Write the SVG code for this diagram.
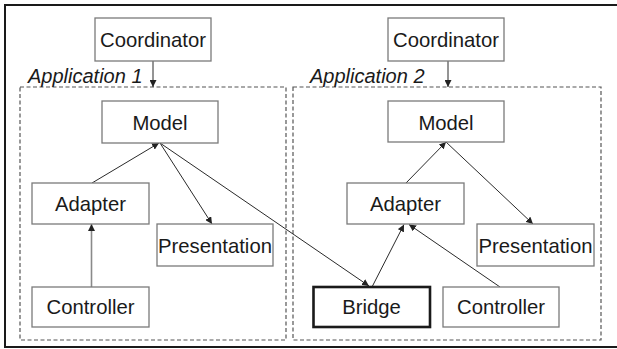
<svg xmlns="http://www.w3.org/2000/svg" width="617" height="349" viewBox="0 0 617 349">
  <defs>
    <marker id="arrow" viewBox="0 0 10 10" refX="10" refY="5" markerWidth="7" markerHeight="7" markerUnits="userSpaceOnUse" orient="auto">
      <path d="M0,0 L10,5 L0,10 z" fill="#222"/>
    </marker>
    <style>
      .node rect { fill: #fff; stroke: #7a7a7a; stroke-width: 1.3; }
      .node.bold rect { stroke: #1a1a1a; stroke-width: 2.6; }
      .node text { font-family: "Liberation Sans", Arial, sans-serif; font-size: 20.3px; fill: #1a1a1a; text-anchor: middle; }
      .app { fill: none; stroke: #555; stroke-width: 1.2; stroke-dasharray: 4 2.5; }
      .app-label { font-family: "Liberation Sans", Arial, sans-serif; font-size: 20px; font-style: italic; fill: #1a1a1a; }
      .edge { stroke: #2a2a2a; stroke-width: 1; fill: none; marker-end: url(#arrow); }
      .edge.soft { stroke: #8a8a8a; stroke-width: 1.6; }
    </style>
  </defs>

  <rect width="617" height="349" fill="#fff"/>

  <!-- outer frame: open on the right -->
  <path d="M617,5 H5 V347 H617" fill="none" stroke="#1a1a1a" stroke-width="2"/>

  <!-- application containers -->
  <g id="application-1">
    <rect class="app" x="20" y="87" width="266" height="253"/>
    <text class="app-label" x="28" y="83">Application 1</text>
  </g>
  <g id="application-2">
    <rect class="app" x="293" y="87" width="308" height="253"/>
    <text class="app-label" x="310" y="83">Application 2</text>
  </g>

  <!-- connectors -->
  <g id="connectors">
    <line class="edge" x1="153" y1="61" x2="153" y2="87"/>
    <line class="edge" x1="448" y1="61" x2="448" y2="87"/>
    <line class="edge" x1="92" y1="183" x2="159" y2="143"/>
    <line class="edge" x1="160" y1="143" x2="212" y2="224"/>
    <line class="edge" x1="160" y1="143" x2="369" y2="286"/>
    <line class="edge soft" x1="91.5" y1="287" x2="91.5" y2="224"/>
    <line class="edge" x1="406" y1="183" x2="446" y2="142"/>
    <line class="edge" x1="446" y1="142" x2="533" y2="224"/>
    <line class="edge" x1="372" y1="287" x2="404" y2="224.5"/>
    <line class="edge" x1="500" y1="287" x2="409" y2="224.5"/>
  </g>

  <!-- nodes -->
  <g id="coordinator-1" class="node">
    <rect x="95" y="18" width="116" height="43"/>
    <text x="153" y="46.5">Coordinator</text>
  </g>
  <g id="coordinator-2" class="node">
    <rect x="388" y="18" width="116" height="43"/>
    <text x="446" y="46.5">Coordinator</text>
  </g>
  <g id="model-1" class="node">
    <rect x="102" y="101" width="116" height="42"/>
    <text x="160" y="129.5">Model</text>
  </g>
  <g id="adapter-1" class="node">
    <rect x="32" y="183" width="117" height="41"/>
    <text x="90.5" y="211">Adapter</text>
  </g>
  <g id="presentation-1" class="node">
    <rect x="157" y="224" width="116" height="42"/>
    <text x="215" y="252.5">Presentation</text>
  </g>
  <g id="controller-1" class="node">
    <rect x="32" y="287" width="117" height="40"/>
    <text x="90.5" y="314">Controller</text>
  </g>
  <g id="model-2" class="node">
    <rect x="388" y="101" width="116" height="41"/>
    <text x="446" y="129.5">Model</text>
  </g>
  <g id="adapter-2" class="node">
    <rect x="347" y="183" width="117" height="41"/>
    <text x="405.5" y="211">Adapter</text>
  </g>
  <g id="presentation-2" class="node">
    <rect x="477" y="224" width="117" height="42"/>
    <text x="535.5" y="252.5">Presentation</text>
  </g>
  <g id="bridge" class="node bold">
    <rect x="313.5" y="287" width="116.5" height="40"/>
    <text x="371.5" y="314">Bridge</text>
  </g>
  <g id="controller-2" class="node">
    <rect x="443" y="287" width="116" height="40"/>
    <text x="501" y="314">Controller</text>
  </g>
</svg>
